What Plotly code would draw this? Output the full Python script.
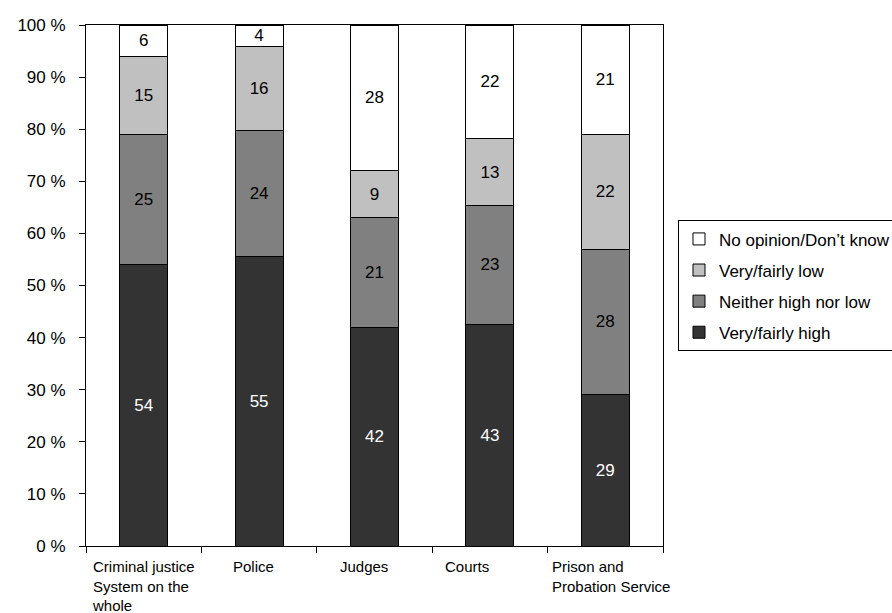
import plotly.graph_objects as go

categories = ["Criminal justice<br>System on the<br>whole", "Police", "Judges", "Courts",
              "Prison and<br>Probation Service"]
cat_keys = ["CJS", "Police", "Judges", "Courts", "Prison"]
series_names = ["Very/fairly high", "Neither high nor low", "Very/fairly low", "No opinion/Don\u2019t know"]
very_high = [54, 55, 42, 43, 29]
neither = [25, 24, 21, 23, 28]
very_low = [15, 16, 9, 13, 22]
no_opinion = [6, 4, 28, 22, 21]
y_ticks = [0, 10, 20, 30, 40, 50, 60, 70, 80, 90, 100]
y_tick_labels = [f"{v} %" for v in y_ticks]

series_values = [very_high, neither, very_low, no_opinion]
colors = ["#333333", "#808080", "#C0C0C0", "#FFFFFF"]
text_colors = ["#FFFFFF", "#000000", "#000000", "#000000"]
legend_ranks = [4, 3, 2, 1]
FONT = "Liberation Sans, Arial, sans-serif"

fig = go.Figure()
for name, vals, col, tcol, rk in zip(series_names, series_values, colors, text_colors, legend_ranks):
    fig.add_trace(go.Bar(
        x=cat_keys, y=vals, name=name,
        marker=dict(color=col, line=dict(color="#000000", width=1)),
        text=[str(v) for v in vals], textposition="inside",
        insidetextanchor="middle", textangle=0,
        textfont=dict(color=tcol, size=17, family=FONT),
        legendgroup=name, legendrank=rk,
    ))

# left-aligned category labels below axis
label_shift = [-54, -28, -37, -47, -55]
for key, lab, sh in zip(cat_keys, categories, label_shift):
    fig.add_annotation(x=key, xref="x", y=0, yref="paper", text=lab,
                       showarrow=False, xanchor="left", yanchor="top", align="left",
                       xshift=sh, yshift=-10,
                       font=dict(size=15, family=FONT, color="#000000"))

fig.update_layout(
    width=892, height=613,
    margin=dict(l=86, r=229, t=25, b=67, autoexpand=False),
    barmode="stack", barnorm="percent", bargap=0.585,
    plot_bgcolor="#FFFFFF", paper_bgcolor="#FFFFFF",
    font=dict(family=FONT, size=16, color="#000000"),
    uniformtext=dict(minsize=17, mode="show"),
    legend=dict(x=1.026, y=0.625, xanchor="left", yanchor="top",
                traceorder="grouped", tracegroupgap=6,
                bordercolor="#000000", borderwidth=1,
                font=dict(size=17, family=FONT), itemwidth=30),
    showlegend=True,
)
fig.update_xaxes(range=[-0.5, 4.5], showline=True, linecolor="#000000", linewidth=1, mirror=True,
                 showticklabels=False, ticks="outside", ticklen=6, tickcolor="#000000",
                 tickson="boundaries", showgrid=False)
fig.update_yaxes(range=[0, 100], tickmode="array", tickvals=y_ticks, ticktext=y_tick_labels,
                 showline=True, linecolor="#000000", linewidth=1, mirror=True,
                 ticks="outside", ticklen=6, tickcolor="#000000", showgrid=False,
                 zeroline=False, ticklabelstandoff=10,
                 tickfont=dict(size=17, family=FONT))

fig.write_html("out.html")
